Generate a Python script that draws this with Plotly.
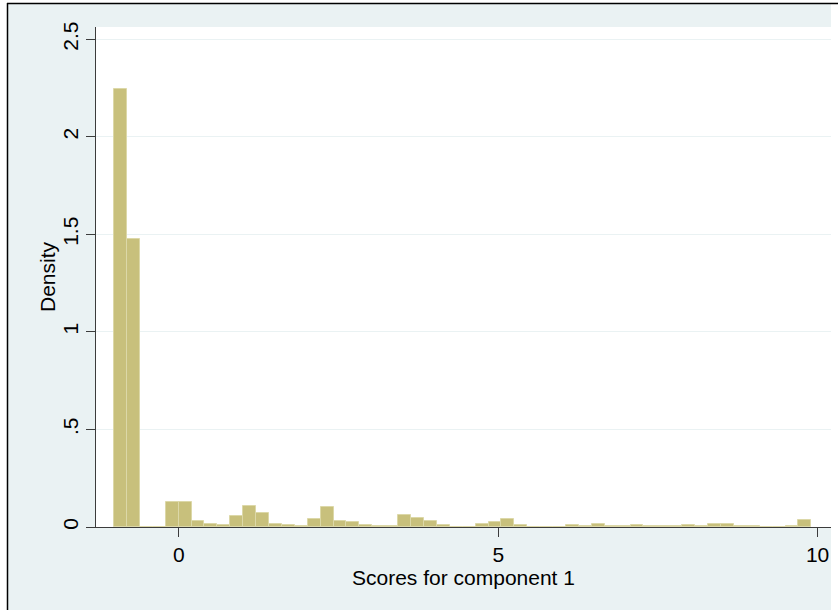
import plotly.graph_objects as go

# Histogram of PCA scores (density scale), 54 equal-width bins
bin_start = -1.016
bin_width = 0.2022
density = [
    2.244, 1.477, 0.0, 0.0, 0.126, 0.128, 0.030, 0.016, 0.008, 0.054,
    0.109, 0.071, 0.016, 0.008, 0.003, 0.039, 0.101, 0.031, 0.028, 0.008,
    0.003, 0.005, 0.064, 0.045, 0.031, 0.008, 0.002, 0.002, 0.013, 0.028,
    0.042, 0.010, 0.002, 0.002, 0.002, 0.008, 0.004, 0.016, 0.003, 0.006,
    0.012, 0.003, 0.003, 0.003, 0.008, 0.003, 0.016, 0.017, 0.003, 0.003,
    0.0, 0.0, 0.003, 0.038,
]

x_ticks = [0, 5, 10]
x_tick_text = ["0", "5", "10"]
y_ticks = [0, 0.5, 1, 1.5, 2, 2.5]
y_tick_text = ["0", ".5", "1", "1.5", "2", "2.5"]
x_title = "Scores for component 1"
y_title = "Density"

centers = [bin_start + bin_width * (i + 0.5) for i in range(len(density))]

W, H = 838, 615
L, R, T, B = 96, 7, 27, 88
pw, ph = W - L - R, H - T - B

tick_font = dict(family="Liberation Sans, Arial, sans-serif", size=21, color="#000000")
title_font = dict(family="Liberation Sans, Arial, sans-serif", size=21, color="#000000")
axis_col = "#3c3c3c"
bg = "#EAF2F3"

fig = go.Figure()
fig.add_trace(go.Bar(
    x=centers, y=density, width=bin_width,
    marker=dict(color="#C8C07C", line=dict(color="#DCD8A8", width=1)),
    hoverinfo="skip",
))


def px_x(p):
    return (p - L) / pw


def px_y(p):
    return 1 - (p - T) / ph


# graph region background with a dark frame on the top and left edges
fig.add_shape(type="rect", xref="paper", yref="paper",
              x0=px_x(7), x1=px_x(831), y0=px_y(610), y1=px_y(3),
              fillcolor=bg, line=dict(width=0), layer="below")
# white plot region on top of it
fig.add_shape(type="rect", xref="paper", yref="paper",
              x0=0, x1=1, y0=0, y1=1,
              fillcolor="#ffffff", line=dict(width=0), layer="below")
fig.add_shape(type="line", xref="paper", yref="paper",
              x0=px_x(7), x1=px_x(838), y0=px_y(3.5), y1=px_y(3.5),
              line=dict(color="#000000", width=1.5), layer="below")
fig.add_shape(type="line", xref="paper", yref="paper",
              x0=px_x(7.5), x1=px_x(7.5), y0=px_y(610), y1=px_y(3),
              line=dict(color="#000000", width=1.5), layer="below")

# axis titles placed as annotations
fig.add_annotation(text=x_title, xref="paper", yref="paper",
                   x=0.5, y=px_y(577), xanchor="center", yanchor="middle",
                   showarrow=False, font=title_font)
fig.add_annotation(text=y_title, xref="paper", yref="paper",
                   x=px_x(47), y=0.5, xanchor="center", yanchor="middle",
                   textangle=-90, showarrow=False, font=title_font)

fig.update_layout(
    width=W, height=H,
    margin=dict(l=L, r=R, t=T, b=B),
    paper_bgcolor="#ffffff",
    plot_bgcolor="rgba(0,0,0,0)",
    showlegend=False,
    bargap=0,
    font=tick_font,
    xaxis=dict(
        range=[-1.298, 10.21],
        tickvals=x_ticks, ticktext=x_tick_text,
        ticks="outside", ticklen=9, tickwidth=1, tickcolor=axis_col,
        showline=True, linecolor=axis_col, linewidth=1,
        showgrid=False, zeroline=False,
        tickfont=tick_font,
    ),
    yaxis=dict(
        range=[0, 2.563],
        tickvals=y_ticks, ticktext=y_tick_text,
        tickangle=-90,
        ticks="outside", ticklen=9, tickwidth=1, tickcolor=axis_col,
        showline=True, linecolor=axis_col, linewidth=1,
        showgrid=True, gridcolor=bg, gridwidth=1,
        zeroline=False,
        tickfont=tick_font,
    ),
)

fig.write_html("out.html")
